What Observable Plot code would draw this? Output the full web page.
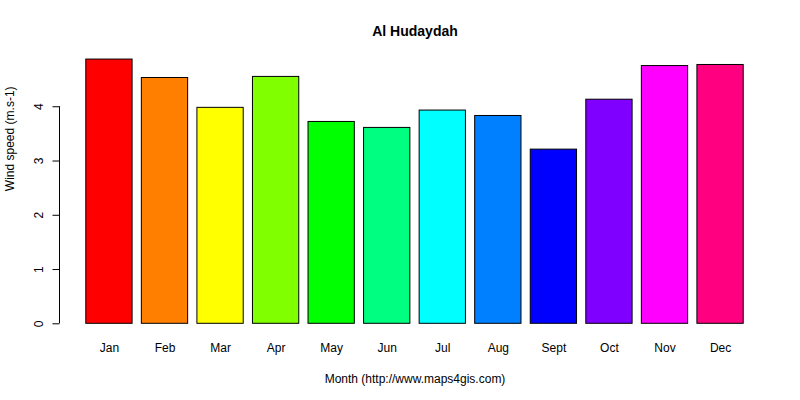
<!DOCTYPE html>
<html>
<head>
<meta charset="utf-8">
<script src="https://cdn.jsdelivr.net/npm/d3@7"></script>
<script src="https://cdn.jsdelivr.net/npm/@observablehq/plot@0.6"></script>
<style>
  html, body { margin: 0; padding: 0; background: #fff; }
  #chart svg { display: block; }
</style>
</head>
<body>
<div id="chart"></div>
<script>
const months = ["Jan", "Feb", "Mar", "Apr", "May", "Jun", "Jul", "Aug", "Sept", "Oct", "Nov", "Dec"];
const windSpeed = [4.87, 4.53, 3.98, 4.55, 3.72, 3.61, 3.93, 3.83, 3.21, 4.13, 4.75, 4.77];
const barColors = ["#FF0000", "#FF8000", "#FFFF00", "#80FF00", "#00FF00", "#00FF80",
                   "#00FFFF", "#0080FF", "#0000FF", "#8000FF", "#FF00FF", "#FF0080"];
const yTicks = [0, 1, 2, 3, 4];
const title = "Al Hudaydah";
const xLabel = "Month (http://www.maps4gis.com)";
const yLabel = "Wind speed (m.s-1)";

const data = months.map((m, i) => ({month: m, value: windSpeed[i], color: barColors[i]}));

const chart = Plot.plot({
  width: 800,
  height: 400,
  marginLeft: 59.5,
  marginRight: 30.5,
  marginTop: 52,
  marginBottom: 76.7,
  style: {fontFamily: "'Liberation Sans', Arial, sans-serif", fontSize: "12px", color: "#000", background: "#fff"},
  x: {domain: months, paddingInner: 0.2 / 1.2, paddingOuter: 0.4733, round: false, label: null},
  y: {domain: [0, 5], label: null},
  marks: [
    Plot.barY(data, {x: "month", y: "value", fill: "color", stroke: "#000", strokeWidth: 1}),
    Plot.axisX({tickSize: 0, tickPadding: 20, fontSize: 12, label: null}),
    Plot.axisY({ticks: yTicks, tickSize: 7, tickFormat: () => "", label: null, strokeWidth: 1}),
    Plot.text(yTicks, {y: d => d, text: d => String(d), frameAnchor: "left", dx: -21, rotate: -90, fontSize: 12, textAnchor: "middle", lineAnchor: "middle"}),
    Plot.text([title], {frameAnchor: "top", dy: -21, fontWeight: "bold", fontSize: 14, lineAnchor: "middle"}),
    Plot.text([xLabel], {frameAnchor: "bottom", dy: 55, fontSize: 12, lineAnchor: "middle"}),
    Plot.text([yLabel], {frameAnchor: "left", dx: -49.5, dy: 3, rotate: -90, fontSize: 12, lineAnchor: "middle"})
  ]
});

// y axis line spanning the first to last tick, placed with the plot's own y scale
const ys = chart.scale("y");
d3.select(chart).append("line")
  .attr("x1", 59.5).attr("x2", 59.5)
  .attr("y1", ys.apply(yTicks[0])).attr("y2", ys.apply(yTicks[yTicks.length - 1]))
  .attr("stroke", "#000").attr("stroke-width", 1);

document.getElementById("chart").appendChild(chart);
</script>
</body>
</html>
